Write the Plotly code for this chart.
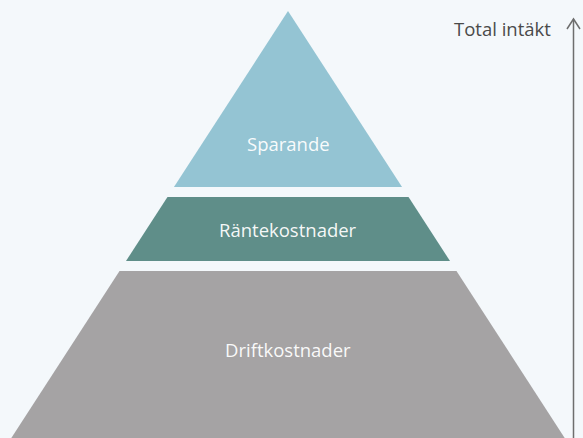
import plotly.graph_objects as go

# Data (top to bottom of the pyramid), heights in relative units
levels = ["Sparande", "Räntekostnader", "Driftkostnader"]
heights = [176, 64, 168]
colors = ["#94c4d3", "#5f8e89", "#a5a3a4"]
axis_label = "Total intäkt"

GAP = 10
SLOPE = 0.648  # half-width per unit of height
FONT = "Open Sans"

fig = go.Figure()

y = 0.0
for i, (name, h, c) in enumerate(zip(levels, heights, colors)):
    y0, y1 = y, y + h
    xs = [-SLOPE * y0, SLOPE * y0, SLOPE * y1, -SLOPE * y1, -SLOPE * y0]
    ys = [y0, y0, y1, y1, y0]
    fig.add_trace(go.Scatter(x=xs, y=ys, fill="toself", fillcolor=c,
                             mode="lines", line=dict(width=0, color=c),
                             hoverinfo="skip", showlegend=False, name=name))
    if i == 0:
        ly = y0 + 0.75 * h
    elif i == 1:
        ly = y0 + 0.5 * h
    else:
        ly = y0 + 0.47 * h
    fig.add_annotation(x=0, y=ly, text=name, showarrow=False,
                       font=dict(family=FONT, size=18.5, color="rgba(255,255,255,0.95)"))
    y = y1 + GAP

# Arrow on the right
ax_x = 285.5
fig.add_shape(type="line", x0=ax_x, x1=ax_x, y0=8.5, y1=440,
              line=dict(color="#6e6e6e", width=1.5))
fig.add_shape(type="path", path=f"M {ax_x-6.5} 18 L {ax_x} 8 L {ax_x+6.5} 18",
              line=dict(color="#6e6e6e", width=1.5))
fig.add_annotation(x=265, y=17, text=axis_label, showarrow=False, xanchor="right",
                   font=dict(family=FONT, size=18.5, color="#4a4a4a"))

fig.update_xaxes(range=[-288, 295], visible=False, fixedrange=True)
fig.update_yaxes(range=[427, -11], visible=False, fixedrange=True)
fig.update_layout(width=583, height=438, margin=dict(l=0, r=0, t=0, b=0),
                  paper_bgcolor="#f4f8fb", plot_bgcolor="#f4f8fb")

fig.write_html("out.html", config={"displayModeBar": False},
               post_script="document.body.style.margin='0px';document.body.style.overflow='hidden';")
